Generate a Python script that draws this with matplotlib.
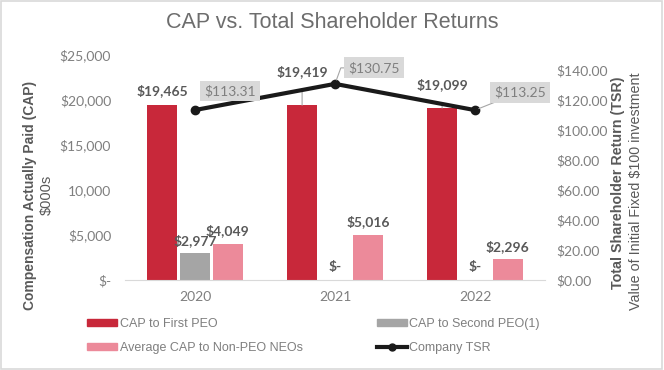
import numpy as np
import matplotlib
matplotlib.use("Agg")
import matplotlib.pyplot as plt
from matplotlib.patches import Rectangle, Patch
from matplotlib.lines import Line2D

# data
years = ["2020", "2021", "2022"]
cap_first_peo = [19465, 19419, 19099]
cap_second_peo = [2977, 0, 0]
cap_non_peo = [4049, 5016, 2296]
company_tsr = [113.31, 130.75, 113.25]

left_ticks = [0, 5000, 10000, 15000, 20000, 25000]
left_tick_labels = ["$-", "$5,000", "10,000", "$15,000", "$20,000", "$25,000"]
right_ticks = [0, 20, 40, 60, 80, 100, 120, 140]

RED = "#C8283A"
GRAY = "#A5A5A5"
PINK = "#EC8A9A"
TXT = "#595959"
TICK = "#7F7F7F"
CAL = "Lato"
ARIAL = "Liberation Sans"

fig = plt.figure(figsize=(6.64, 3.70), dpi=100)
ax = fig.add_axes([125 / 664, 1 - 280 / 370, 420 / 664, 225 / 370])
ax2 = ax.twinx()

x = np.arange(len(years))
w = 0.215
off = 0.235
ax.bar(x - off, cap_first_peo, w, color=RED, zorder=2)
ax.bar(x, cap_second_peo, w, color=GRAY, zorder=2)
ax.bar(x + off, cap_non_peo, w, color=PINK, zorder=2)

ax.set_xlim(-0.5, 2.5)
ax.set_ylim(0, 25000)
ax.set_xticks(x)
ax.set_xticklabels(years, fontfamily=CAL, fontsize=10, color=TICK)
ax.set_yticks(left_ticks)
ax.set_yticklabels(left_tick_labels, fontfamily=CAL, fontsize=10, color=TICK)
ax.tick_params(length=0, pad=10)
ax.tick_params(axis="x", pad=8)
for s in ["top", "right", "left"]:
    ax.spines[s].set_visible(False)
ax.spines["bottom"].set_color("#D9D9D9")

ax2.plot(x, company_tsr, color="#1A1A1A", lw=3, marker="o", ms=6, zorder=3)
ax2.set_ylim(0, 150)
ax2.set_yticks(right_ticks)
ax2.set_yticklabels([f"${t:.2f}" for t in right_ticks], fontfamily=CAL, fontsize=10, color=TICK)
ax2.tick_params(length=0, pad=8)
for s in ax2.spines.values():
    s.set_visible(False)

# bar labels
lab = dict(textcoords="offset pixels", ha="center", va="center",
           fontfamily=CAL, fontsize=10, fontweight="bold", color=TXT)
bar_offsets = [14, 34, 23]
for i, v in enumerate(cap_first_peo):
    ap = None
    if i > 0:
        ap = dict(arrowstyle="-", color="#A6A6A6", lw=0.8, shrinkA=6, shrinkB=0)
    ax.annotate(f"${v:,}", xy=(x[i] - off, v), xytext=(0, bar_offsets[i]),
                arrowprops=ap, **lab)
for i, v in enumerate(cap_second_peo):
    ax.annotate(f"${v:,}" if v else "$-", xy=(x[i], v), xytext=(0, 13), **lab)
for i, v in enumerate(cap_non_peo):
    ax.annotate(f"${v:,}", xy=(x[i] + off, v), xytext=(0, 13), **lab)

# TSR labels
tsr_offsets = [(35, 19), (39, 16), (45, 18)]
for i, v in enumerate(company_tsr):
    ap = None
    if i > 0:
        ap = dict(arrowstyle="-", color="#A6A6A6", lw=0.8, shrinkA=0, shrinkB=3,
                  connectionstyle="angle,angleA=0,angleB=70,rad=0" if i == 1 else "arc3")
    ax2.annotate(f"${v:.2f}", xy=(x[i], v), xytext=tsr_offsets[i],
                 textcoords="offset pixels", ha="center", va="center",
                 fontfamily=CAL, fontsize=10, color=TICK, arrowprops=ap,
                 bbox=dict(boxstyle="square,pad=0.3", fc="#D9D9D9", ec="none"), zorder=5)

fig.text(0.5, 1 - 22 / 370, "CAP vs. Total Shareholder Returns", ha="center", va="center",
         fontfamily=ARIAL, fontsize=15.5, color="#6D6D6D")

fig.text(30 / 664, 1 - 195 / 370, "Compensation Actually Paid (CAP)", rotation=90,
         ha="center", va="center", fontfamily=ARIAL, fontsize=10, fontweight="bold", color=TXT)
fig.text(47 / 664, 1 - 195 / 370, "$000s", rotation=90,
         ha="center", va="center", fontfamily=ARIAL, fontsize=10.5, color=TXT)
fig.text(618 / 664, 1 - 183 / 370, "Total Shareholder Return (TSR)", rotation=90,
         ha="center", va="center", fontfamily=ARIAL, fontsize=10.3, fontweight="bold", color=TXT)
fig.text(636 / 664, 1 - 191 / 370, "Value of Initial Fixed $100 investment", rotation=90,
         ha="center", va="center", fontfamily=ARIAL, fontsize=10.3, color=TXT)

handles = [Patch(color=RED), Patch(color=PINK), Patch(color=GRAY),
           Line2D([], [], color="#1A1A1A", lw=3, marker="o", ms=5)]
labels = ["CAP to First PEO", "Average CAP to Non-PEO NEOs",
          "CAP to Second PEO(1)", "Company TSR"]
leg = fig.legend(handles, labels, ncol=2, loc="center left",
                 bbox_to_anchor=(76 / 664, 1 - 336 / 370), frameon=False,
                 prop=dict(family=ARIAL, size=9), labelcolor=TICK,
                 handlelength=2.4, handleheight=0.45, handletextpad=0.2,
                 columnspacing=5.9, labelspacing=0.95)

fig.add_artist(Rectangle((0.002, 0.003), 0.995, 0.993, transform=fig.transFigure,
                         fill=False, ec="#D9D9D9", lw=1.2))

fig.savefig("out.png", dpi=100, facecolor="white")
